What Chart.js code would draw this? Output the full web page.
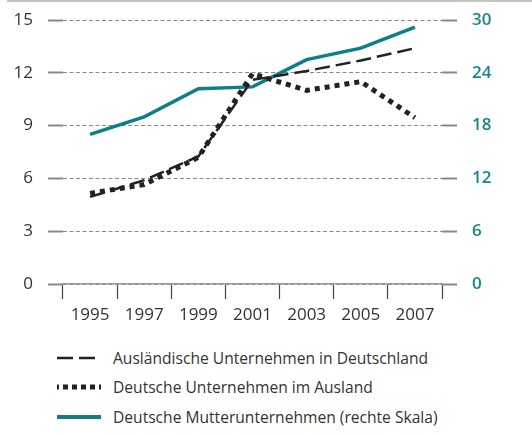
<!DOCTYPE html>
<html>
<head>
<meta charset="utf-8">
<script src="https://cdn.jsdelivr.net/npm/chart.js@4"></script>
<style>
  body { margin: 0; background: #fff; font-family: "Open Sans", sans-serif; }
  #wrap { position: relative; width: 532px; height: 435px; }
  #topline { position: absolute; left: 7px; right: 0; top: 0; height: 2px; background: #c4c4c4; }
  #chartBox { position: absolute; left: 0; top: 0; width: 532px; height: 335px; }
  #legend { position: absolute; left: 57px; top: 343px; }
  .item { display: flex; align-items: center; height: 29.5px; font-size: 15.6px; color: #333; }
  .item svg { width: 44px; height: 10px; margin-right: 12px; }
</style>
</head>
<body>
<div id="wrap">
  <div id="topline"></div>
  <div id="chartBox"><canvas id="myChart"></canvas></div>
  <div id="legend">
    <div class="item"><svg><line x1="0" y1="5" x2="44" y2="5" stroke="#222" stroke-width="2.5" stroke-dasharray="16 6" /></svg>Ausländische Unternehmen in Deutschland</div>
    <div class="item"><svg><line x1="0" y1="5" x2="44" y2="5" stroke="#222" stroke-width="5" stroke-dasharray="2 4 5 4 5 4 5 4 5 4" /></svg>Deutsche Unternehmen im Ausland</div>
    <div class="item"><svg><line x1="0" y1="5" x2="44" y2="5" stroke="#0e7f86" stroke-width="4" stroke-linecap="round" /></svg>Deutsche Mutterunternehmen (rechte Skala)</div>
  </div>
</div>
<script>
const ctx = document.querySelector('#myChart');

const years = ['1995', '1997', '1999', '2001', '2003', '2005', '2007']
const auslInDeutschland = [4.95, 5.9, 7.25, 11.6, 12.1, 12.7, 13.4]
const deutscheImAusland = [5.15, 5.65, 7.2, 11.95, 11.0, 11.5, 9.45]
const mutterunternehmen = [17, 19, 22.2, 22.4, 25.5, 26.8, 29.2]
const leftTicks = [0, 3, 6, 9, 12, 15]
const rightTicks = [0, 6, 12, 18, 24, 30]

const labelFont = { family: 'Open Sans', size: 17 }

const data = {
  labels: years,
  datasets: [{
    label: 'Ausländische Unternehmen in Deutschland',
    data: auslInDeutschland,
    yAxisID: 'y',
    borderColor: '#222',
    borderWidth: 2.5,
    borderDash: [15, 6],
    pointRadius: 0,
    tension: 0,
    order: 1
  }, {
    label: 'Deutsche Unternehmen im Ausland',
    data: deutscheImAusland,
    yAxisID: 'y',
    borderColor: '#222',
    borderWidth: 5,
    borderDash: [5, 5],
    borderCapStyle: 'butt',
    pointRadius: 0,
    tension: 0,
    order: 2
  }, {
    label: 'Deutsche Mutterunternehmen (rechte Skala)',
    data: mutterunternehmen,
    yAxisID: 'y2',
    borderColor: '#0e7f86',
    borderWidth: 3.5,
    pointRadius: 0,
    tension: 0,
    order: 3
  }]
};

// fixed axis sizes so the plot area sits where the original has it
const fixVertical = (w) => (scale) => {
  scale.width = w
  scale.paddingTop = 0
  scale.paddingBottom = 0
}

const config = {
  type: 'line',
  data: data,
  options: {
    responsive: true,
    maintainAspectRatio: false,
    animation: false,
    layout: { padding: { top: 20, left: 0, right: 0, bottom: 0 } },
    plugins: {
      legend: { display: false },
      tooltip: { enabled: false }
    },
    scales: {
      x: {
        offset: true,
        grid: {
          offset: true,
          drawOnChartArea: false,
          tickLength: 15,
          tickColor: '#444',
          tickWidth: 1.2
        },
        border: { display: true, color: '#999', width: 1.5 },
        ticks: { font: labelFont, color: '#333', padding: 6 },
        afterFit: (scale) => {
          scale.height = 51
          scale.paddingLeft = 0
          scale.paddingRight = 0
        }
      },
      y: {
        position: 'left',
        min: 0,
        max: 15,
        afterBuildTicks: (scale) => { scale.ticks = leftTicks.map(v => ({ value: v })) },
        grid: {
          color: '#8a8a8a',
          lineWidth: 1,
          tickLength: 15,
          tickColor: '#8a8a8a',
          tickWidth: 2
        },
        border: { display: false, dash: [4, 2.5] },
        ticks: { font: labelFont, color: '#333', padding: 15 },
        afterFit: fixVertical(63)
      },
      y2: {
        position: 'right',
        min: 0,
        max: 30,
        afterBuildTicks: (scale) => { scale.ticks = rightTicks.map(v => ({ value: v })) },
        grid: {
          drawOnChartArea: false,
          tickLength: 15,
          tickColor: '#8a8a8a',
          tickWidth: 2
        },
        border: { display: false },
        ticks: { font: { family: 'Open Sans', size: 17, weight: '600' }, color: '#1a868c', padding: 15 },
        afterFit: fixVertical(90)
      }
    }
  }
};

const myChart = new Chart(ctx, config)
</script>
</body>
</html>
